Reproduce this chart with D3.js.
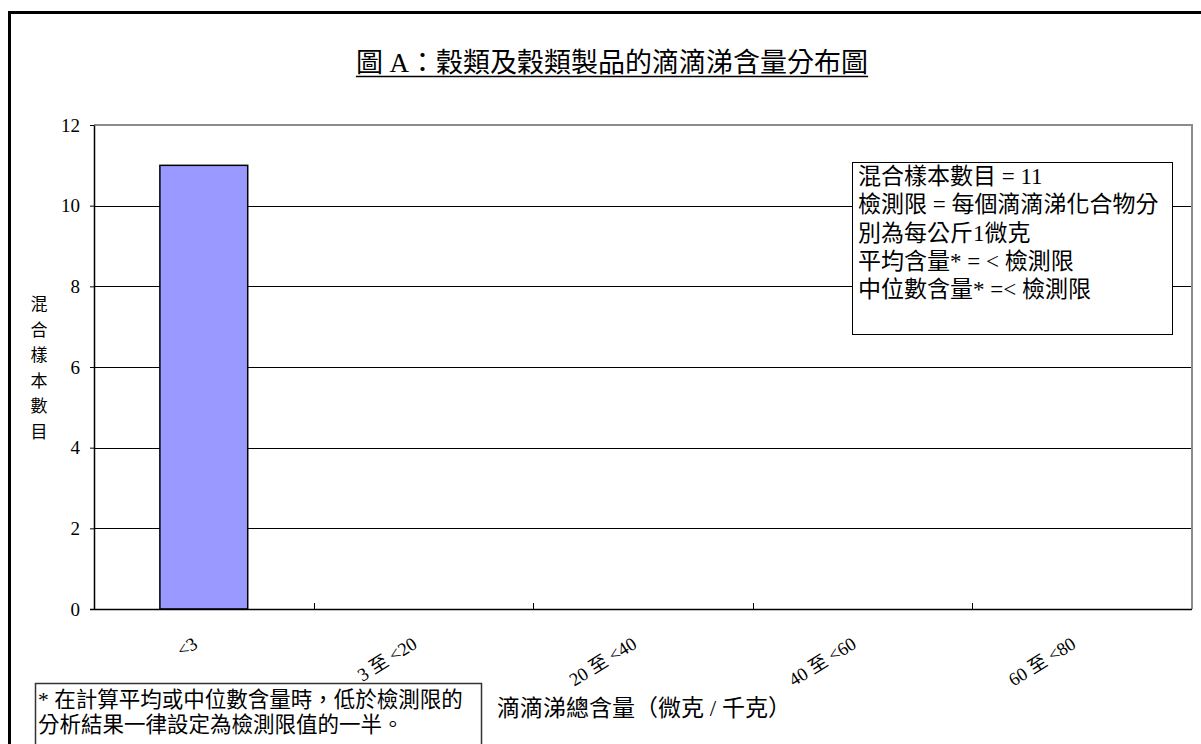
<!DOCTYPE html>
<html>
<head>
<meta charset="utf-8">
<script src="https://cdn.jsdelivr.net/npm/d3@7"></script>
<style>
  html, body { margin: 0; padding: 0; background: #fff; }
  svg { display: block; }
  text { font-family: "Liberation Serif", "Noto Sans CJK TC", serif; fill: #000; }
</style>
</head>
<body>
<svg id="chart" width="1201" height="744"></svg>
<script>
// Distribution of DDT total content in cereals and cereal products
const titleText = "圖 A：穀類及穀類製品的滴滴涕含量分布圖";
const categories = ["<3", "3 至 <20", "20 至 <40", "40 至 <60", "60 至 <80"];
const counts = [11, 0, 0, 0, 0];
const yTicks = [0, 2, 4, 6, 8, 10, 12];
const yAxisLabel = ["混", "合", "樣", "本", "數", "目"];
const xAxisLabel = "滴滴涕總含量（微克 / 千克）";
const noteLines = [
  "混合樣本數目 = 11",
  "檢測限 = 每個滴滴涕化合物分",
  "別為每公斤1微克",
  "平均含量* = < 檢測限",
  "中位數含量* =< 檢測限"
];
const footnoteLines = [
  "* 在計算平均或中位數含量時，低於檢測限的",
  "分析結果一律設定為檢測限值的一半。"
];

const svg = d3.select("#chart");
const plot = { left: 94, right: 1192, top: 125, bottom: 609 };

// outer frame (left and top edges)
svg.append("path")
  .attr("d", `M9.5,760 L9.5,12.5 L1210,12.5`)
  .attr("fill", "none").attr("stroke", "#000").attr("stroke-width", 3);

// title with underline
const title = svg.append("text")
  .attr("x", 612).attr("y", 72)
  .attr("text-anchor", "middle")
  .attr("font-size", 27)
  .text(titleText);
const tw = title.node().getComputedTextLength();
svg.append("line")
  .attr("x1", 612 - tw / 2).attr("x2", 612 + tw / 2)
  .attr("y1", 76.5).attr("y2", 76.5)
  .attr("stroke", "#000").attr("stroke-width", 1.5);

const x = d3.scaleBand()
  .domain(categories)
  .range([plot.left, plot.right])
  .paddingInner(0.6)
  .paddingOuter(0.3);

const y = d3.scaleLinear()
  .domain([0, 12])
  .range([plot.bottom, plot.top]);

// horizontal gridlines
svg.append("g")
  .selectAll("line")
  .data(yTicks.filter(t => t > 0 && t < 12))
  .join("line")
  .attr("x1", plot.left).attr("x2", plot.right)
  .attr("y1", d => Math.round(y(d)) + 0.5).attr("y2", d => Math.round(y(d)) + 0.5)
  .attr("stroke", "#000").attr("stroke-width", 1);

// plot area top / right border
svg.append("path")
  .attr("d", `M${plot.left},${plot.top} L${plot.right},${plot.top} L${plot.right},${plot.bottom}`)
  .attr("fill", "none").attr("stroke", "#8c8c8c").attr("stroke-width", 2);

// bars
svg.append("g")
  .selectAll("rect")
  .data(categories.map((c, i) => ({ c, v: counts[i] })).filter(d => d.v > 0))
  .join("rect")
  .attr("x", d => x(d.c))
  .attr("y", d => y(d.v))
  .attr("width", x.bandwidth())
  .attr("height", d => y(0) - y(d.v))
  .attr("fill", "#9999ff")
  .attr("stroke", "#000").attr("stroke-width", 1.5);

// y axis
const yAxis = svg.append("g")
  .attr("transform", `translate(${plot.left},0)`)
  .call(d3.axisLeft(y).tickValues(yTicks).tickSize(4).tickPadding(10).tickSizeOuter(0));
yAxis.select(".domain").attr("stroke", "#000").attr("stroke-width", 1.5);
yAxis.selectAll(".tick line").attr("stroke", "#000");
yAxis.selectAll(".tick text")
  .style("font-family", "'Liberation Serif', serif")
  .style("font-size", "19px")
  .attr("fill", "#000");

// x axis baseline and category boundary ticks
const step = x.step();
const boundaries = categories.map(c => x(c) + x.bandwidth() / 2 + step / 2);
svg.append("line")
  .attr("x1", plot.left - 4).attr("x2", plot.right)
  .attr("y1", plot.bottom + 0.5).attr("y2", plot.bottom + 0.5)
  .attr("stroke", "#000").attr("stroke-width", 1.5);
svg.append("g")
  .selectAll("line")
  .data(boundaries.slice(0, -1))
  .join("line")
  .attr("x1", d => Math.round(d) + 0.5).attr("x2", d => Math.round(d) + 0.5)
  .attr("y1", plot.bottom - 6).attr("y2", plot.bottom)
  .attr("stroke", "#000");

// rotated category labels
svg.append("g")
  .selectAll("text")
  .data(categories)
  .join("text")
  .attr("transform", d => `translate(${x(d) + x.bandwidth() / 2 - 5},647) rotate(-32)`)
  .attr("text-anchor", "end")
  .attr("font-size", 18.5)
  .text(d => d);

// y axis title, one character per line
svg.append("g")
  .selectAll("text")
  .data(yAxisLabel)
  .join("text")
  .attr("x", 39)
  .attr("y", (d, i) => 310 + i * 25.5)
  .attr("text-anchor", "middle")
  .attr("font-size", 17)
  .attr("fill", "#333")
  .text(d => d);

// x axis title
svg.append("text")
  .attr("x", 497).attr("y", 716)
  .attr("font-size", 23)
  .text(xAxisLabel);

// statistics note box
svg.append("rect")
  .attr("x", 852.5).attr("y", 162.5)
  .attr("width", 320).attr("height", 172)
  .attr("fill", "#fff").attr("stroke", "#000").attr("stroke-width", 1);
svg.append("g")
  .selectAll("text")
  .data(noteLines)
  .join("text")
  .attr("x", 858)
  .attr("y", (d, i) => 184 + i * 28.3)
  .attr("font-size", 23)
  .text(d => d);

// footnote box
svg.append("rect")
  .attr("x", 35.5).attr("y", 683.5)
  .attr("width", 446).attr("height", 80)
  .attr("fill", "#fff").attr("stroke", "#333").attr("stroke-width", 1.5);
svg.append("g")
  .selectAll("text")
  .data(footnoteLines)
  .join("text")
  .attr("x", 38)
  .attr("y", (d, i) => 707 + i * 25)
  .attr("font-size", 21.5)
  .text(d => d);
</script>
</body>
</html>
